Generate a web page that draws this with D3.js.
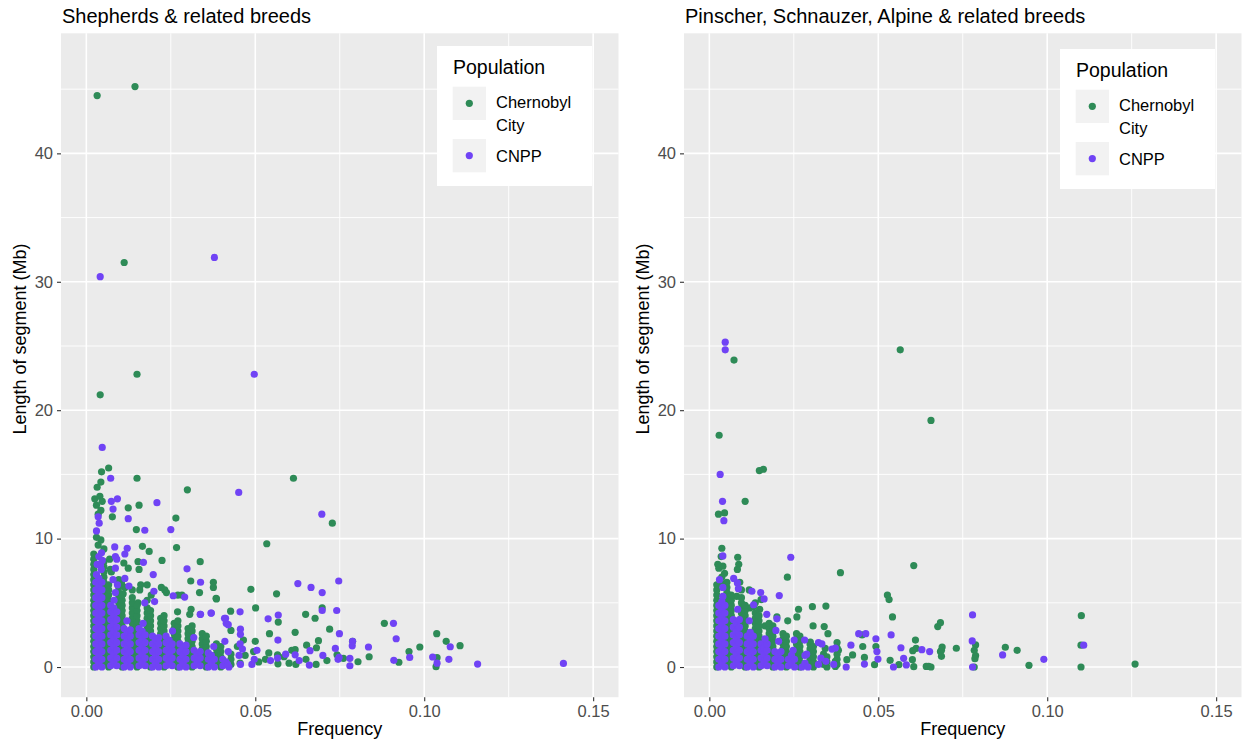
<!DOCTYPE html>
<html>
<head>
<meta charset="utf-8">
<script src="https://cdn.jsdelivr.net/npm/d3@7"></script>
<style>
  html, body { margin: 0; padding: 0; background: #ffffff; }
  svg { display: block; }
  text { font-family: "Liberation Sans", Arial, Helvetica, sans-serif; }
</style>
</head>
<body>
<svg id="chart" width="1246" height="742"></svg>
<script>
// Populations shown in both panels
const populations = ["Chernobyl City", "CNPP"];
const popColors = ["#2E8B57", "#7043F5"];

// Axis ticks
const xTicks = [0, 0.05, 0.10, 0.15];
const xMinor = [0.025, 0.075, 0.125];
const yTicks = [0, 10, 20, 30, 40];
const yMinor = [5, 15, 25, 35, 45];

// Panel titles
const panelTitles = ["Shepherds & related breeds", "Pinscher, Schnauzer, Alpine & related breeds"];

// ---- Shepherds & related breeds ----
// scattered segments: [frequency, segment length (Mb)]
const shepherdsCityScatter = [
  [0.0032,44.5],[0.0144,45.2],[0.0112,31.5],[0.0150,22.8],[0.0041,21.2],
  [0.0066,15.5],[0.0045,15.2],[0.0043,14.4],[0.0150,14.7],[0.0613,14.7],[0.0032,14.0],[0.0299,13.8],
  [0.0025,13.1],[0.0040,13.3],[0.0047,12.9],[0.0030,12.6],[0.0043,12.2],[0.0035,11.9],
  [0.0156,12.6],[0.0124,12.4],[0.0077,11.7],[0.0265,11.6],[0.0728,11.2],
  [0.0148,10.7],[0.0030,10.1],[0.0043,9.9],[0.0035,9.5],[0.0166,9.4],[0.0267,9.3],[0.0534,9.6],
  [0.0186,9.0],[0.0069,8.4],[0.0153,8.2],[0.0224,8.3],[0.0337,8.2],[0.0111,8.1],[0.0124,7.7],[0.0156,7.6],[0.0071,7.6],[0.0074,7.4],
  [0.0309,6.7],[0.0376,6.6],[0.0376,6.2],[0.0161,6.4],[0.0158,6.0],[0.0180,6.4],[0.0104,6.5],[0.0114,6.2],[0.0109,5.7],
  [0.0222,6.2],[0.0232,6.0],[0.0237,5.8],[0.0192,5.6],[0.0271,5.6],[0.0335,5.8],[0.0385,5.3],[0.0153,5.0],[0.0487,6.05],
  [0.0563,5.7],[0.0384,5.35],[0.0283,5.6],[0.0501,4.6],[0.0427,4.35],[0.0270,4.3],[0.0310,4.5],[0.0306,4.1],[0.0649,4.1],
  [0.0677,3.8],[0.0698,4.6],[0.0568,3.5],[0.0428,2.85],[0.0720,2.95],[0.0542,2.6],[0.0618,2.7],[0.0687,2.05],[0.0652,1.7],
  [0.0681,1.5],[0.0742,0.95],[0.0608,1.3],[0.0618,1.35],[0.0566,0.95],[0.0567,0.25],[0.0620,0.2],[0.0680,0.2],[0.0530,0.6],
  [0.0882,3.4],[0.1037,2.6],[0.1065,2.0],[0.1106,1.66],[0.0788,2.0],[0.0955,1.2],[0.0987,1.56],[0.0761,0.68],[0.0804,0.41],
  [0.0837,0.8],[0.0925,0.37],[0.1038,0.73],[0.1035,0.03],
  [0.0447,1.6],[0.0470,0.9],[0.0455,0.3],[0.0465,2.1],[0.0495,1.2],[0.0510,0.4],[0.0500,2.0],
  [0.0540,1.1],[0.0585,0.8],[0.0600,0.3],[0.0650,0.6],[0.0712,0.5]
];
// dense frequency columns: [frequency, [segment lengths (Mb)]]
const shepherdsCityColumns = [
  [0.0022,[0,0.4,0.8,1.2,1.6,2,2.4,2.8,3.2,3.6,4,4.4,4.8,5.2,5.6,6,6.4,6.8,7.2,7.6,8,8.4,8.8]],
  [0.0052,[0.2,0.6,1,1.4,1.8,2.2,2.6,3,3.4,3.8,4.2,4.6,5,5.4,5.8,6.2,6.6,7,7.4,7.8,8.2,9.2]],
  [0.0066,[0,0.4,0.8,1.2,1.6,2,2.4,2.8,3.2,3.6,4,4.4,4.8,5.2,5.6,6,6.4]],
  [0.0096,[0.2,0.6,1,1.4,1.8,2.2,2.6,3,3.4,3.8,4.2,4.6,5,5.4,5.8,6.2,6.8]],
  [0.0106,[0,0.4,0.8,1.2,1.6,2,2.4,2.8,3.2,3.6,4,4.4,4.8,5.2,5.6]],
  [0.0136,[0.2,0.6,1,1.4,1.8,2.2,2.6,3,3.4,3.8,4.2,4.6,5,5.4,6]],
  [0.0150,[0,0.4,0.8,1.2,1.6,2,2.4,2.8,3.2,3.6,4,4.4,4.8]],
  [0.0180,[0.2,0.6,1,1.4,1.8,2.2,2.6,3,3.4,3.8,4.2,4.6,5.2]],
  [0.0190,[0,0.4,0.8,1.2,1.6,2,2.4,2.8,3.2,3.6,4,4.4]],
  [0.0220,[0.2,0.6,1,1.4,1.8,2.2,2.6,3,3.4,3.8]],
  [0.0230,[0,0.4,0.8,1.2,1.6,2,2.4,2.8,3.2,3.6,4]],
  [0.0260,[0.2,0.6,1,1.4,1.8,2.2,2.6,3,3.4]],
  [0.0271,[0,0.4,0.8,1.2,1.6,2,2.4,2.8,3.2,3.6]],
  [0.0301,[0.2,0.6,1,1.4,1.8,2.2,2.6,3]],
  [0.0313,[0,0.4,0.8,1.2,1.6,2,2.4,2.8,3.2]],
  [0.0343,[0.2,0.6,1,1.4,1.8,2.2,2.6]],
  [0.0355,[0,0.4,0.8,1.2,1.6,2,2.4]],
  [0.0385,[0.2,0.6,1,1.4,1.8]],
  [0.0398,[0,0.4,0.8,1.2,1.6]],
  [0.0428,[0.2,0.6,1]]
];

const shepherdsCNPPScatter = [
  [0.0041,30.4],[0.0379,31.9],[0.0497,22.8],[0.0047,17.1],[0.0072,14.7],[0.0451,13.6],
  [0.0074,12.9],[0.0092,13.1],[0.0079,12.3],[0.0209,12.8],[0.0124,11.55],[0.0035,11.7],[0.0038,11.2],[0.0697,11.9],
  [0.0173,10.65],[0.0250,10.7],[0.0030,10.6],[0.0084,9.35],[0.0121,9.25],[0.0114,8.8],[0.0086,8.6],[0.0090,8.4],
  [0.0045,8.9],[0.0037,8.6],[0.0047,8.3],[0.0169,8.15],[0.0086,7.7],[0.0298,7.65],[0.0198,7.2],
  [0.0338,6.6],[0.0114,6.9],[0.0126,6.3],[0.0079,6.8],[0.0092,6.4],[0.0086,5.8],[0.0200,5.9],[0.0257,5.55],[0.0291,5.45],
  [0.0173,5.0],[0.0202,5.1],[0.0338,4.1],[0.0370,4.2],[0.0409,3.8],[0.0414,3.4],
  [0.0626,6.5],[0.0665,6.2],[0.0698,5.8],[0.0747,6.7],[0.0455,4.3],[0.0337,4.1],[0.0369,4.2],[0.0412,3.8],[0.0698,4.4],
  [0.0741,4.4],[0.0538,3.75],[0.0568,4.05],[0.0420,3.3],[0.0749,2.6],[0.0456,2.95],[0.0456,2.55],[0.0567,2.1],[0.0455,1.8],
  [0.0662,1.27],[0.0737,1.45],[0.0748,0.75],[0.0618,0.95],[0.0566,0.7],[0.0660,0.15],[0.0418,0.2],[0.0456,0.2],[0.0490,0.2],
  [0.0909,3.4],[0.1077,1.58],[0.0917,2.2],[0.0788,2.0],[0.0787,1.65],[0.0835,1.56],[0.0745,0.6],[0.0780,0.68],[0.0780,0.1],
  [0.0910,0.52],[0.0957,0.75],[0.1025,0.78],[0.1038,0.3],[0.1073,0.6],[0.1158,0.23],[0.1412,0.28],
  [0.0030,7.2],[0.0044,7.6],[0.0032,8.0],[0.0042,7.9],
  [0.0082,5.2],[0.0120,3.6],[0.0168,3.4],[0.0255,2.8],[0.0318,2.3],[0.0377,1.6],[0.0410,2.0],[0.0420,1.2],
  [0.0452,0.9],[0.0462,1.4],[0.0497,0.6],[0.0505,1.3],[0.0545,0.5],[0.0590,1.0],[0.0630,0.5],[0.0700,0.9]
];
const shepherdsCNPPColumns = [
  [0.0028,[0,0.6,1.2,1.8,2.4,3,3.6,4.2,4.8,5.4,6,6.6]],
  [0.0037,[0.3,0.9,1.5,2.1,2.7,3.3,3.9,4.5,5.1,5.7,6.3,6.9]],
  [0.0046,[0,0.6,1.2,1.8,2.4,3,3.6,4.2,4.8,5.4,6,6.6]],
  [0.0072,[0.1,0.7,1.3,1.9,2.5,3.1,3.7,4.3,4.8]],
  [0.0081,[0.4,1,1.6,2.2,2.8,3.4,4,4.6]],
  [0.0090,[0.1,0.7,1.3,1.9,2.5,3.1,3.7,4.3]],
  [0.0112,[0,0.6,1.2,1.8,2.4,3]],
  [0.0121,[0.3,0.9,1.5,2.1,2.7]],
  [0.0130,[0,0.6,1.2,1.8,2.4,2.9]],
  [0.0156,[0.1,0.7,1.3,1.9,2.5,3]],
  [0.0165,[0.4,1,1.6,2.2,2.8]],
  [0.0174,[0.1,0.7,1.3,1.9,2.5]],
  [0.0196,[0,0.6,1.2,1.8,2.4]],
  [0.0205,[0.3,0.9,1.5,2.1]],
  [0.0214,[0,0.6,1.2,1.8,2.3]],
  [0.0236,[0.1,0.7,1.3,1.9,2.4]],
  [0.0245,[0.4,1,1.6,2.1]],
  [0.0254,[0.1,0.7,1.3,1.8]],
  [0.0277,[0,0.6,1.2,1.8]],
  [0.0286,[0.3,0.9,1.5]],
  [0.0295,[0,0.6,1.2,1.7]],
  [0.0319,[0.1,0.7,1.3]],
  [0.0328,[0.4,1]],
  [0.0337,[0.1,0.7,1.2]],
  [0.0361,[0,0.6,1.1]],
  [0.0370,[0.3,0.9]],
  [0.0379,[0,0.6]],
  [0.0404,[0.1,0.6]],
  [0.0413,[0.4]],
  [0.0422,[0]]
];

// ---- Pinscher, Schnauzer, Alpine & related breeds ----
const pinscherCityScatter = [
  [0.0073,23.9],[0.0565,24.7],[0.0656,19.2],[0.0029,18.05],[0.0148,15.3],[0.0160,15.4],[0.0106,12.9],[0.0027,11.9],[0.0045,12.0],
  [0.0037,9.25],[0.0084,8.55],[0.0028,7.7],[0.0040,7.85],[0.0083,7.6],[0.0231,7.0],[0.0388,7.35],[0.0605,7.9],[0.0037,7.0],
  [0.0037,6.5],[0.0118,6.0],[0.0153,5.25],[0.0527,5.6],[0.0532,5.25],[0.0081,5.5],[0.0131,4.7],[0.0149,4.5],[0.0264,4.5],
  [0.0305,4.7],[0.0345,4.75],[0.0259,3.9],[0.0200,3.9],[0.0542,3.9],[0.0232,3.6],[0.0307,3.2],[0.0340,3.15],[0.0351,2.6],
  [0.0452,2.5],[0.0676,3.15],[0.0684,3.45],[0.0378,1.9],[0.0378,1.5],[0.0299,1.95],[0.0343,1.45],[0.0382,1.3],[0.0454,1.6],
  [0.0493,1.6],[0.0610,2.1],[0.0602,1.27],[0.0612,1.45],[0.0684,1.2],[0.0407,0.57],[0.0424,0.94],[0.0459,0.75],[0.0489,0.18],
  [0.0535,0.52],[0.0561,0.18],[0.0601,0.57],[0.0605,0.03],[0.0642,0.05],[0.0649,0.05],[0.0373,0.44],[0.0373,0.05],[0.0306,0.16],
  [0.1101,4.0],[0.0788,1.72],[0.0784,1.3],[0.0689,1.55],[0.0687,1.3],[0.0687,0.83],[0.0731,1.46],[0.0656,0.0],[0.0788,0.89],
  [0.0786,0.65],[0.0876,1.54],[0.0911,1.3],[0.0784,0.0],[0.0946,0.13],[0.1100,1.7],[0.1100,0.0],[0.1260,0.23],
  [0.0035,8.6],[0.0025,8.0],[0.0045,7.3],[0.0087,8.0],[0.0090,6.6],[0.0120,4.6],[0.0165,3.2]
];
const pinscherCityColumns = [
  [0.0022,[0,0.4,0.8,1.2,1.6,2,2.4,2.8,3.2,3.6,4,4.4,4.8,5.2,5.6,6,6.4]],
  [0.0052,[0.2,0.6,1,1.4,1.8,2.2,2.6,3,3.4,3.8,4.2,4.6,5,5.4,5.8,6.2,6.6]],
  [0.0065,[0,0.4,0.8,1.2,1.6,2,2.4,2.8,3.2,3.6,4,4.4,4.8,5.2,5.6]],
  [0.0095,[0.2,0.6,1,1.4,1.8,2.2,2.6,3,3.4,3.8,4.2,4.6,5,5.4,6]],
  [0.0106,[0,0.4,0.8,1.2,1.6,2,2.4,2.8,3.2,3.6,4,4.4,4.8]],
  [0.0136,[0.2,0.6,1,1.4,1.8,2.2,2.6,3,3.4,3.8,4.2,5]],
  [0.0147,[0,0.4,0.8,1.2,1.6,2,2.4,2.8,3.2,3.6,4]],
  [0.0177,[0.2,0.6,1,1.4,1.8,2.2,2.6,3,3.4]],
  [0.0188,[0,0.4,0.8,1.2,1.6,2,2.4,2.8,3.2]],
  [0.0218,[0.2,0.6,1,1.4,1.8,2.2,2.6]],
  [0.0228,[0,0.4,0.8,1.2,1.6,2,2.4]],
  [0.0258,[0.2,0.6,1,1.4,1.8,2.2,2.6]],
  [0.0268,[0,0.4,0.8,1.2,1.6,2,2.4]],
  [0.0298,[0.2,0.6,1,1.4,1.8]],
  [0.0308,[0,0.4,0.8,1.2,1.6]],
  [0.0338,[0.2,0.6,1]],
  [0.0348,[0,0.4,0.8]],
  [0.0378,[0.2,0.6,1]]
];

const pinscherCNPPScatter = [
  [0.0047,25.3],[0.0047,24.7],[0.0032,15.0],[0.0039,12.9],[0.0043,11.4],[0.0040,8.65],[0.0241,8.55],[0.0072,6.9],[0.0083,6.55],
  [0.0086,6.1],[0.0126,5.9],[0.0152,5.8],[0.0207,5.56],[0.0040,5.5],[0.0131,4.85],[0.0200,3.75],[0.0197,2.85],[0.0442,2.6],
  [0.0463,2.6],[0.0538,2.5],[0.0493,2.2],[0.0251,2.1],[0.0282,2.1],[0.0323,1.9],[0.0333,1.8],[0.0363,1.4],[0.0373,1.48],
  [0.0419,1.7],[0.0496,1.2],[0.0567,1.5],[0.0629,1.35],[0.0652,1.2],[0.0405,0.0],[0.0459,0.23],[0.0499,0.62],[0.0545,0.0],
  [0.0575,0.68],[0.0583,0.16],[0.0345,0.44],
  [0.0779,4.06],[0.0778,2.03],[0.0868,0.94],[0.0779,0.0],[0.0990,0.6],[0.1108,1.7],
  [0.0040,6.2],[0.0030,6.8],[0.0084,4.5],[0.0118,3.6],[0.0170,4.1],[0.0162,5.3],[0.0165,2.2],[0.0205,2.0],
  [0.0248,1.3],[0.0288,1.0],[0.0330,0.7],[0.0368,0.2]
];
const pinscherCNPPColumns = [
  [0.0028,[0,0.6,1.2,1.8,2.4,3,3.6,4.2,4.8]],
  [0.0037,[0.3,0.9,1.5,2.1,2.7,3.3,3.9,4.5,5.1]],
  [0.0046,[0,0.6,1.2,1.8,2.4,3,3.6,4.2,4.8]],
  [0.0071,[0.1,0.7,1.3,1.9,2.5,3.1,3.7]],
  [0.0080,[0.4,1,1.6,2.2,2.8,3.4]],
  [0.0089,[0.1,0.7,1.3,1.9,2.5,3.1,3.7]],
  [0.0112,[0,0.6,1.2,1.8,2.4]],
  [0.0121,[0.3,0.9,1.5,2.1,2.7]],
  [0.0130,[0,0.6,1.2,1.8,2.4]],
  [0.0153,[0.1,0.7,1.3,1.8]],
  [0.0162,[0.4,1,1.5]],
  [0.0171,[0.1,0.7,1.3,1.8]],
  [0.0194,[0,0.6,1.2]],
  [0.0203,[0.3,0.9]],
  [0.0212,[0,0.6,1.2]],
  [0.0234,[0.1,0.6]],
  [0.0243,[0.3,0.9]],
  [0.0252,[0,0.6]],
  [0.0274,[0]],
  [0.0283,[0.3,0.9]],
  [0.0292,[0]],
  [0.0323,[0.2]]
];

// unpack [frequency, [lengths]] columns into [frequency, length] rows
const unpack = cols => cols.flatMap(([f, ys]) => ys.map(v => [f, v]));

const svg = d3.select("#chart");
const FONT_TICK = 16.5, FONT_AXIS = 18, FONT_TITLE = 20, FONT_LEG_TITLE = 19.5, FONT_LEG = 16.5;
const R = 3.6;

function drawPanel(ox, title, cityData, cnppData, legendDy) {
  const left = 61 + ox, right = 618.5 + ox, top = 33.3, bottom = 697.2;
  const x = d3.scaleLinear().domain([-0.0075, 0.1575]).range([left, right]);
  const y = d3.scaleLinear().domain([-2.35, 49.35]).range([bottom, top]);
  const g = svg.append("g");

  // panel background
  g.append("rect").attr("x", left).attr("y", top)
    .attr("width", right - left).attr("height", bottom - top).attr("fill", "#EBEBEB");

  // minor grid
  g.selectAll(".gxm").data(xMinor).join("line")
    .attr("x1", d => x(d)).attr("x2", d => x(d)).attr("y1", top).attr("y2", bottom)
    .attr("stroke", "#fff").attr("stroke-width", 0.9);
  g.selectAll(".gym").data(yMinor).join("line")
    .attr("y1", d => y(d)).attr("y2", d => y(d)).attr("x1", left).attr("x2", right)
    .attr("stroke", "#fff").attr("stroke-width", 0.9);
  // major grid
  g.selectAll(".gx").data(xTicks).join("line")
    .attr("x1", d => x(d)).attr("x2", d => x(d)).attr("y1", top).attr("y2", bottom)
    .attr("stroke", "#fff").attr("stroke-width", 1.6);
  g.selectAll(".gy").data(yTicks).join("line")
    .attr("y1", d => y(d)).attr("y2", d => y(d)).attr("x1", left).attr("x2", right)
    .attr("stroke", "#fff").attr("stroke-width", 1.6);

  // points: Chernobyl City first, CNPP on top
  [cityData, cnppData].forEach((data, i) => {
    g.append("g").selectAll("circle").data(data).join("circle")
      .attr("cx", d => x(d[0])).attr("cy", d => y(d[1])).attr("r", R)
      .attr("fill", popColors[i]);
  });

  // axes
  const xAxis = g.append("g").attr("transform", `translate(0,${bottom})`)
    .call(d3.axisBottom(x).tickValues(xTicks).tickFormat(d3.format(".2f")).tickSize(4).tickPadding(4));
  const yAxis = g.append("g").attr("transform", `translate(${left},0)`)
    .call(d3.axisLeft(y).tickValues(yTicks).tickFormat(d3.format("d")).tickSize(4).tickPadding(4));
  [xAxis, yAxis].forEach(a => {
    a.select(".domain").remove();
    a.selectAll(".tick line").attr("stroke", "#333333").attr("stroke-width", 1.1);
    a.selectAll(".tick text").attr("fill", "#4D4D4D").style("font-size", FONT_TICK + "px")
      .style("font-family", '"Liberation Sans", Arial, Helvetica, sans-serif');
  });

  // axis titles
  g.append("text").attr("x", (left + right) / 2).attr("y", 735)
    .attr("text-anchor", "middle").style("font-size", FONT_AXIS + "px").attr("fill", "#000")
    .text("Frequency");
  g.append("text").attr("transform", `translate(${26 + ox},339) rotate(-90)`)
    .attr("text-anchor", "middle").style("font-size", FONT_AXIS + "px").attr("fill", "#000")
    .text("Length of segment (Mb)");

  // plot title
  g.append("text").attr("x", left + 1).attr("y", 23)
    .style("font-size", FONT_TITLE + "px").attr("fill", "#000").text(title);

  // legend
  const lx = 437 + ox, ly = 46 + legendDy;
  const lg = g.append("g").attr("transform", `translate(${lx},${ly})`);
  lg.append("rect").attr("x", 0).attr("y", 0).attr("width", 155).attr("height", 140).attr("fill", "#fff");
  lg.append("text").attr("x", 16).attr("y", 28.3).style("font-size", FONT_LEG_TITLE + "px")
    .attr("fill", "#000").text("Population");
  const keyY = [40.7, 93];
  const labelLines = [["Chernobyl", "City"], ["CNPP"]];
  const lineBase = [[62.3, 84.5], [115.5]];
  populations.forEach((p, i) => {
    lg.append("rect").attr("x", 15.7).attr("y", keyY[i]).attr("width", 33.3).attr("height", 33.3)
      .attr("fill", "#F2F2F2");
    lg.append("circle").attr("cx", 32.3).attr("cy", keyY[i] + 16.6).attr("r", R).attr("fill", popColors[i]);
    labelLines[i].forEach((t, j) => {
      lg.append("text").attr("x", 59).attr("y", lineBase[i][j])
        .style("font-size", FONT_LEG + "px").attr("fill", "#000").text(t);
    });
  });
}

drawPanel(0, panelTitles[0],
  shepherdsCityScatter.concat(unpack(shepherdsCityColumns)),
  unpack(shepherdsCNPPColumns).concat(shepherdsCNPPScatter), 0);
drawPanel(623, panelTitles[1],
  pinscherCityScatter.concat(unpack(pinscherCityColumns)),
  unpack(pinscherCNPPColumns).concat(pinscherCNPPScatter), 3);
</script>
</body>
</html>
